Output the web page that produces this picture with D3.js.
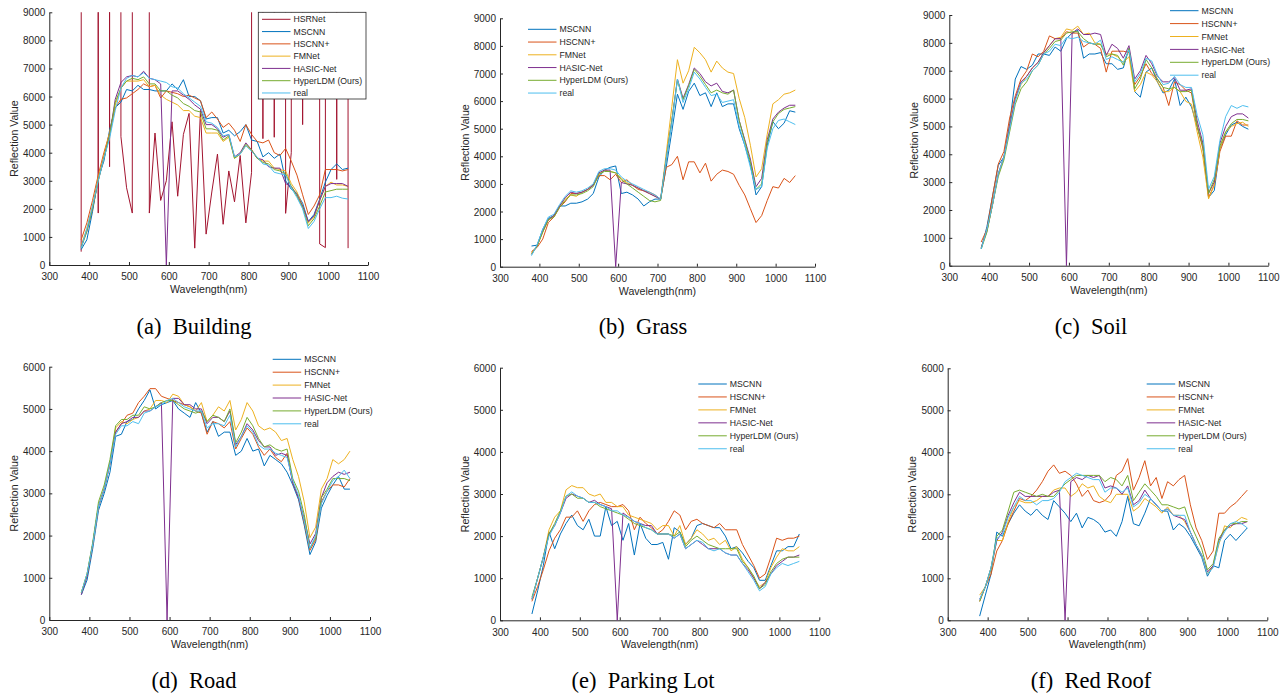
<!DOCTYPE html>
<html>
<head>
<meta charset="utf-8">
<script src="https://cdn.jsdelivr.net/npm/d3@7"></script>
<style>
  body { margin: 0; background: #fff; }
  svg { display: block; }
  .axisText, .legendText { font-family: "Liberation Sans", Arial, sans-serif; fill: #262626; }
  .caption { font-family: "Liberation Serif", "Times New Roman", serif; font-size: 22.5px; fill: #000; }
</style>
</head>
<body>
<div id="chart"></div>
<script>
// Band centres (nm), shared by every panel
var wavelengths = [380.0, 394.3, 408.5, 422.8, 437.0, 451.3, 465.5, 479.8, 494.0, 508.3,
  522.6, 536.8, 551.1, 565.3, 579.6, 593.8, 608.1, 622.3, 636.6, 650.9,
  665.1, 679.4, 693.6, 707.9, 722.1, 736.4, 750.6, 764.9, 779.1, 793.4,
  807.7, 821.9, 836.2, 850.4, 864.7, 878.9, 893.2, 907.4, 921.7, 935.9,
  950.2, 964.5, 978.7, 993.0, 1007.2, 1021.5, 1035.7, 1050.0];

var xTicks = [300, 400, 500, 600, 700, 800, 900, 1000, 1100];
var yTicks9000 = [0, 1000, 2000, 3000, 4000, 5000, 6000, 7000, 8000, 9000];
var yTicks6000 = [0, 1000, 2000, 3000, 4000, 5000, 6000];

// HSRNet blows up far above the axis on some bands
var OFF = 1000000;

// (a) Building
var buildingHSRNet = [475, OFF, OFF, 1850, OFF, 3500, OFF, 4570, 2750, 1850, OFF, OFF, 1850, 4700, 2300, 3000, 5100, 2450, 4650, 5400, 600, 5500, 1100, 2600, 3950, 1450, 3350, 2250, 3900, 1500, 3300, OFF, 4500, OFF, 4550, OFF, 1840, 4000, OFF, 5000, OFF, OFF, 750, 620, OFF, 3050, OFF, 600];
var buildingMSCNN = [550, 900, 1900, 3100, 3700, 4800, 5600, 5800, 6250, 6200, 6400, 6250, 6250, 6200, 6200, 6200, 6450, 6250, 6600, 6000, 6000, 5850, 5200, 5250, 5250, 4700, 4800, 4600, 4750, 5000, 4450, 4400, 3850, 4000, 3800, 3950, 3000, 2700, 2550, 2200, 1550, 1800, 2350, 2950, 3400, 3600, 3400, 3450];
var buildingHSCNN = [900, 1500, 2300, 3200, 4000, 4700, 5600, 5900, 5950, 6100, 6250, 6450, 6350, 6400, 5950, 6200, 6150, 6100, 6000, 6050, 5950, 5850, 5250, 5450, 5200, 4900, 5050, 4800, 4400, 5000, 4650, 4400, 4350, 4450, 4000, 3900, 4150, 3700, 3200, 2500, 1800, 2100, 2500, 3400, 3400, 3400, 3350, 3400];
var buildingFMNet = [700, 1300, 2100, 3100, 3900, 4700, 5700, 6300, 6550, 6550, 6550, 6600, 6350, 6400, 6050, 5900, 5800, 5700, 5500, 5500, 5300, 5250, 4700, 4700, 4700, 4400, 4550, 3800, 3950, 4250, 4100, 3800, 3700, 3700, 3450, 3400, 3350, 2900, 2600, 2100, 1500, 1700, 2300, 2800, 2950, 2850, 2850, 2800];
var buildingHASIC = [650, 1200, 2000, 3000, 3800, 4600, 5900, 6500, 6700, 6750, 6700, 6900, 6650, 6600, 6450, 0, 6200, 6200, 6050, 5900, 5700, 5550, 5000, 5000, 4850, 4550, 4650, 3850, 4000, 4350, 4100, 3800, 3750, 3500, 3450, 3450, 2900, 2800, 2500, 2100, 1550, 1750, 2300, 2800, 2900, 2900, 2900, 2800];
var buildingHyperLDM = [600, 1200, 2000, 3000, 3800, 4600, 5800, 6300, 6550, 6650, 6600, 6700, 6450, 6450, 6200, 6200, 6050, 5950, 5750, 5650, 5500, 5450, 4850, 4850, 4800, 4450, 4600, 3800, 3950, 4300, 4100, 3800, 3650, 3600, 3400, 3350, 3250, 2800, 2450, 2050, 1400, 1650, 2100, 2600, 2650, 2700, 2700, 2700];
var buildingReal = [600, 1300, 2100, 3000, 3800, 4500, 5500, 6300, 6650, 6750, 6700, 6850, 6650, 6600, 6550, 6500, 6350, 6300, 6100, 5950, 5800, 5650, 5100, 5050, 4900, 4600, 4650, 3850, 3950, 4250, 4050, 3850, 3600, 3550, 3300, 3250, 3200, 2750, 2400, 2000, 1300, 1550, 2000, 2400, 2400, 2450, 2380, 2350];

// (b) Grass
var grassMSCNN = [750, 780, 1350, 1750, 1850, 2200, 2200, 2300, 2300, 2350, 2450, 2650, 3250, 3500, 3600, 3650, 2650, 2700, 2600, 2450, 2200, 2350, 2450, 2450, 3600, 4900, 6250, 5700, 6350, 6650, 6200, 6300, 5800, 6300, 5800, 5900, 5900, 5000, 4400, 3700, 2600, 2900, 4400, 5250, 5000, 5200, 5650, 5600];
var grassHSCNN = [550, 700, 1000, 1600, 1800, 2150, 2350, 2650, 2650, 2700, 2800, 2950, 3300, 3300, 3150, 3350, 3050, 3150, 2950, 2800, 2750, 2700, 2600, 2450, 3600, 3700, 4000, 3150, 3800, 3800, 3400, 3750, 3100, 3350, 3500, 3450, 3350, 2950, 2600, 2100, 1600, 1850, 2400, 2900, 2850, 3200, 3050, 3300];
var grassFMNet = [500, 750, 1250, 1700, 1850, 2200, 2450, 2600, 2550, 2700, 2800, 3000, 3350, 3500, 3450, 3400, 3200, 3050, 2950, 2850, 2750, 2650, 2550, 2450, 4100, 5800, 7500, 6650, 7100, 7950, 7750, 7500, 7050, 7450, 7200, 7050, 7000, 6100, 5400, 4400, 3250, 3550, 4800, 5900, 6050, 6250, 6300, 6400];
var grassHASIC = [450, 750, 1300, 1700, 1850, 2200, 2500, 2700, 2650, 2700, 2800, 2950, 3400, 3500, 3500, 0, 3050, 3000, 2950, 2850, 2750, 2650, 2550, 2450, 3900, 5300, 6800, 6100, 6600, 7200, 7000, 6700, 6550, 6650, 6350, 6300, 6400, 5300, 4600, 3900, 2900, 3200, 4600, 5350, 5600, 5750, 5850, 5850];
var grassHyperLDM = [450, 750, 1250, 1700, 1800, 2150, 2400, 2600, 2600, 2650, 2750, 2900, 3350, 3450, 3450, 3400, 3150, 3000, 2850, 2700, 2550, 2400, 2350, 2400, 3900, 5300, 6750, 6050, 6550, 7150, 6900, 6600, 6300, 6400, 6300, 6250, 6400, 5300, 4550, 3800, 2800, 3000, 4500, 5250, 5550, 5700, 5750, 5800];
var grassReal = [400, 800, 1350, 1800, 1900, 2250, 2550, 2750, 2700, 2750, 2850, 3000, 3450, 3550, 3550, 3500, 3250, 3100, 3000, 2900, 2800, 2700, 2600, 2450, 3900, 5200, 6800, 5950, 6450, 7050, 6800, 6500, 6200, 6250, 5950, 6000, 6050, 5100, 4400, 3600, 2800, 2900, 4300, 5000, 5300, 5350, 5250, 5150];

// (c) Soil
var soilMSCNN = [600, 1400, 2500, 3600, 3900, 5100, 6700, 7150, 7050, 7200, 7600, 7600, 7550, 7850, 7700, 8150, 8350, 8450, 7450, 7600, 7600, 7650, 7250, 7250, 7050, 7100, 7800, 6250, 6050, 6950, 7100, 6600, 6200, 6300, 6700, 5750, 6050, 5700, 5000, 4300, 2450, 2700, 4200, 4700, 5050, 5150, 5000, 4900];
var soilHSCNN = [850, 1300, 2500, 3650, 4100, 5300, 6100, 6700, 7000, 7600, 7500, 7700, 8250, 8150, 8150, 8400, 8350, 8350, 7850, 8000, 7950, 7800, 6950, 7700, 7700, 7700, 7650, 6500, 6800, 7250, 6900, 6700, 6400, 5750, 6600, 6500, 6300, 6200, 5000, 4200, 2450, 2900, 4100, 4650, 4650, 5200, 5050, 5050];
var soilFMNet = [650, 1250, 2200, 3300, 3900, 5000, 6000, 6500, 6800, 7100, 7300, 7650, 7900, 8150, 8200, 8500, 8450, 8600, 8300, 8350, 8000, 7950, 7600, 7600, 7500, 7300, 7500, 6250, 6500, 6950, 6850, 6600, 6250, 6250, 6400, 6250, 5900, 5800, 4800, 3900, 2400, 2900, 4200, 4800, 5000, 5100, 5150, 5000];
var soilHASIC = [650, 1250, 2200, 3300, 3900, 5000, 6000, 6600, 6800, 7100, 7300, 7650, 7900, 8150, 8150, 0, 8350, 8500, 8300, 8300, 8350, 8300, 7550, 7950, 7800, 7450, 7900, 6700, 7000, 7550, 7250, 6800, 6600, 6600, 6750, 6300, 6300, 6350, 5200, 4400, 2600, 3000, 4400, 5000, 5350, 5450, 5450, 5300];
var soilHyperLDM = [600, 1200, 2200, 3200, 3800, 4800, 5800, 6350, 6600, 7000, 7200, 7600, 7800, 8050, 8100, 8350, 8400, 8400, 8150, 8000, 7950, 7950, 7500, 7600, 7550, 7200, 7800, 6350, 6700, 7400, 7100, 6700, 6400, 6350, 6400, 6250, 6250, 6300, 5000, 4300, 2600, 3100, 4300, 4800, 5100, 5250, 5250, 5200];
var soilReal = [600, 1300, 2200, 3300, 3900, 4900, 5900, 6550, 6700, 7000, 7200, 7600, 7700, 7950, 7900, 8200, 8150, 8200, 8050, 8000, 7950, 8100, 7400, 7500, 7400, 7300, 7750, 6600, 6900, 7450, 7350, 6850, 6500, 6550, 6800, 6500, 6400, 6400, 5400, 4700, 2750, 3200, 4500, 5350, 5750, 5650, 5750, 5700];

// (d) Road
var roadMSCNN = [600, 950, 1700, 2600, 3000, 3500, 4350, 4400, 4700, 4750, 5000, 5200, 5450, 5000, 5100, 5150, 5200, 5000, 4900, 4800, 5150, 4900, 4450, 4700, 4350, 4450, 4450, 3900, 4000, 4300, 4000, 4050, 3650, 3900, 3800, 3700, 3500, 3200, 2850, 2250, 1550, 1850, 2650, 2950, 3200, 3400, 3100, 3100];
var roadHSCNN = [650, 1050, 1800, 2700, 3100, 3700, 4450, 4650, 4850, 4900, 5150, 5300, 5480, 5480, 5300, 5250, 5200, 5150, 5100, 5050, 4950, 4900, 4400, 4700, 4650, 4550, 4700, 4050, 4300, 4550, 4400, 4100, 3900, 4050, 3850, 3750, 3950, 3250, 2900, 2300, 1650, 1900, 2800, 3050, 3200, 3200, 3150, 3350];
var roadFMNet = [650, 1100, 1800, 2700, 3100, 3700, 4550, 4700, 4650, 4750, 4800, 4950, 5000, 5200, 5200, 5150, 5350, 5300, 5100, 5050, 4950, 5150, 4700, 4850, 5050, 4950, 5200, 4500, 4750, 5150, 4950, 4600, 4500, 4550, 4450, 4250, 4300, 3800, 3400, 2800, 1950, 2200, 3100, 3350, 3800, 3700, 3800, 4000];
var roadHASIC = [600, 1050, 1800, 2700, 3100, 3700, 4450, 4650, 4700, 4800, 4800, 4950, 4950, 5050, 5150, 0, 5250, 5250, 5100, 5100, 5000, 5000, 4650, 4800, 4800, 4700, 4950, 4150, 4350, 4650, 4500, 4250, 4100, 4100, 3900, 3950, 3900, 3250, 2900, 2400, 1800, 2050, 2900, 3250, 3400, 3500, 3450, 3500];
var roadHyperLDM = [650, 1100, 1850, 2800, 3200, 3800, 4600, 4750, 4750, 4850, 4850, 5050, 5000, 5050, 5150, 5200, 5200, 5100, 5000, 4950, 4900, 4950, 4700, 4850, 4800, 4700, 5000, 4200, 4450, 4800, 4600, 4300, 4100, 4150, 4050, 4000, 4050, 3350, 3050, 2500, 1700, 1950, 2900, 3100, 3350, 3350, 3350, 3300];
var roadReal = [650, 1100, 1800, 2700, 3100, 3700, 4400, 4600, 4600, 4700, 4650, 4900, 4950, 5050, 5100, 5200, 5250, 5150, 5050, 5000, 4950, 4950, 4550, 4650, 4650, 4600, 4850, 4100, 4350, 4600, 4450, 4150, 4050, 4050, 3950, 3900, 3850, 3300, 2950, 2350, 1700, 2000, 2750, 3050, 3300, 3400, 3550, 3350];

// (e) Parking Lot
var parkingMSCNN = [150, 700, 1300, 2100, 1700, 2050, 2300, 2500, 2250, 2150, 2400, 2000, 2000, 2700, 2250, 2350, 1900, 2300, 1550, 2300, 1950, 1800, 1800, 1850, 1450, 2200, 2100, 1800, 1950, 2250, 2300, 2250, 2200, 2200, 2000, 1700, 1750, 1600, 1400, 1250, 950, 950, 1300, 1650, 1650, 1750, 1750, 2050];
var parkingHSCNN = [450, 800, 1200, 1650, 1950, 2150, 2450, 2450, 2600, 2350, 2600, 2750, 2800, 2750, 2700, 2700, 2750, 2600, 2150, 2450, 2300, 2200, 2050, 2150, 2350, 2600, 2500, 2150, 2350, 2400, 2300, 2250, 2200, 2300, 2150, 2150, 2150, 1800, 1550, 1300, 1000, 1100, 1500, 1950, 1900, 1950, 1950, 2000];
var parkingFMNet = [500, 1000, 1500, 2150, 2450, 2600, 3100, 3200, 3150, 3150, 3000, 2950, 3000, 2800, 2800, 2700, 2700, 2500, 2450, 2400, 2350, 2300, 2150, 2250, 2250, 2000, 2250, 1800, 1950, 2150, 2050, 1900, 1950, 1800, 1900, 1650, 1750, 1450, 1250, 1000, 800, 900, 1250, 1500, 1700, 1650, 1650, 1750];
var parkingHASIC = [500, 1000, 1500, 2050, 2250, 2550, 2900, 3000, 2950, 2900, 2800, 2850, 2750, 2700, 2650, 0, 2550, 2450, 2350, 2300, 2250, 2250, 2050, 2050, 2050, 1950, 2050, 1700, 1800, 1900, 1800, 1700, 1700, 1700, 1600, 1550, 1550, 1350, 1200, 1000, 750, 900, 1100, 1300, 1400, 1500, 1500, 1550];
var parkingHyperLDM = [550, 1000, 1500, 2050, 2300, 2600, 2950, 3000, 2900, 2900, 2800, 2800, 2700, 2650, 2600, 2550, 2500, 2400, 2300, 2250, 2200, 2150, 2050, 2050, 2050, 2000, 2100, 1750, 1900, 2000, 1900, 1800, 1750, 1700, 1700, 1700, 1700, 1400, 1250, 1050, 750, 850, 1150, 1350, 1450, 1500, 1500, 1500];
var parkingReal = [500, 1000, 1500, 2000, 2250, 2550, 2950, 3050, 2950, 2900, 2800, 2800, 2750, 2700, 2600, 2600, 2500, 2450, 2350, 2300, 2200, 2150, 2050, 2050, 2050, 1950, 2050, 1700, 1800, 1900, 1850, 1700, 1650, 1700, 1600, 1550, 1550, 1350, 1150, 950, 700, 800, 1100, 1250, 1350, 1300, 1350, 1400];

// (f) Red Roof
var roofMSCNN = [100, 600, 1100, 2100, 2000, 2300, 2550, 2750, 2600, 2500, 2650, 2500, 2400, 2850, 2700, 2550, 2350, 2550, 2200, 2450, 2400, 2300, 2100, 2150, 2000, 2350, 2950, 2300, 2250, 2550, 2900, 2750, 2600, 2600, 2150, 2300, 2200, 2000, 1750, 1500, 1050, 1300, 1250, 1900, 2050, 1900, 2050, 2200];
var roofHSCNN = [450, 800, 1100, 1650, 1900, 2300, 2600, 2900, 2850, 2950, 3100, 3300, 3550, 3700, 3500, 3550, 3450, 3250, 2950, 3100, 2850, 2800, 2850, 3000, 3450, 3550, 3850, 3100, 3400, 3800, 3200, 3400, 2900, 3300, 3200, 3350, 3450, 2750, 2200, 1900, 1450, 1650, 2550, 2550, 2700, 2800, 2950, 3100];
var roofFMNet = [600, 800, 1200, 1900, 1900, 2350, 2700, 2850, 2800, 2800, 2850, 2950, 2950, 3100, 3150, 3150, 2950, 3050, 3250, 3150, 3200, 2950, 2850, 2800, 3000, 3000, 3000, 2600, 2700, 2900, 2800, 2700, 2550, 2700, 2500, 2500, 2350, 2100, 1800, 1550, 1100, 1300, 1800, 2250, 2200, 2350, 2450, 2400];
var roofHASIC = [500, 800, 1250, 1900, 2100, 2500, 2800, 3050, 2950, 2950, 2950, 2950, 2950, 3050, 3100, 0, 3300, 3400, 3350, 3450, 3400, 3450, 3150, 3200, 3150, 3000, 3200, 2750, 2850, 3100, 2900, 2750, 2600, 2650, 2500, 2450, 2400, 2100, 1800, 1550, 1150, 1300, 1900, 2150, 2250, 2300, 2300, 2350];
var roofHyperLDM = [450, 800, 1250, 2000, 2150, 2600, 3050, 3100, 3050, 3000, 2950, 3000, 2950, 2950, 3100, 3250, 3350, 3450, 3450, 3450, 3450, 3450, 3300, 3400, 3350, 3200, 3450, 2850, 3050, 3250, 3100, 2950, 2750, 2750, 2700, 2650, 2700, 2300, 2000, 1700, 1200, 1350, 1950, 2150, 2300, 2300, 2350, 2350];
var roofReal = [500, 800, 1250, 1950, 2050, 2450, 2700, 2950, 2850, 2850, 2750, 2850, 2850, 2900, 3050, 3300, 3400, 3500, 3450, 3400, 3350, 3350, 3050, 3150, 3150, 3050, 3150, 2700, 2800, 3000, 2900, 2750, 2600, 2650, 2500, 2500, 2500, 2100, 1800, 1550, 1100, 1250, 1850, 2100, 2300, 2350, 2300, 2200];

// MATLAB default line colours
var methodColors = {
    "HSRNet": "#A2142F",
    "MSCNN": "#0072BD",
    "HSCNN+": "#D95319",
    "FMNet": "#EDB120",
    "HASIC-Net": "#7E2F8E",
    "HyperLDM (Ours)": "#77AC30",
    "real": "#4DBEEE"
};

var panels = [
    { label: "(a)", title: "Building", left: 49.3, right: 368, top: 12.3, bottom: 265, yTicks: yTicks9000,
      captionX: 194, captionY: 334, legendX: 262, legendY: 19.3, legendStep: 12.28, legendBox: [258.3, 12.3, 366, 99],
      series: [["HSRNet", buildingHSRNet], ["MSCNN", buildingMSCNN], ["HSCNN+", buildingHSCNN], ["FMNet", buildingFMNet],
               ["HASIC-Net", buildingHASIC], ["HyperLDM (Ours)", buildingHyperLDM], ["real", buildingReal]] },
    { label: "(b)", title: "Grass", left: 500, right: 815, top: 18.3, bottom: 266.7, yTicks: yTicks9000,
      captionX: 643, captionY: 334, legendX: 528, legendY: 29.3, legendStep: 12.75,
      series: [["MSCNN", grassMSCNN], ["HSCNN+", grassHSCNN], ["FMNet", grassFMNet],
               ["HASIC-Net", grassHASIC], ["HyperLDM (Ours)", grassHyperLDM], ["real", grassReal]] },
    { label: "(c)", title: "Soil", left: 949.3, right: 1268.3, top: 15, bottom: 265.7, yTicks: yTicks9000,
      captionX: 1091, captionY: 334, legendX: 1170, legendY: 10.7, legendStep: 12.9,
      series: [["MSCNN", soilMSCNN], ["HSCNN+", soilHSCNN], ["FMNet", soilFMNet],
               ["HASIC-Net", soilHASIC], ["HyperLDM (Ours)", soilHyperLDM], ["real", soilReal]] },
    { label: "(d)", title: "Road", left: 49.3, right: 370, top: 366.7, bottom: 620, yTicks: yTicks6000,
      captionX: 194, captionY: 688, legendX: 272.7, legendY: 359.3, legendStep: 12.9,
      series: [["MSCNN", roadMSCNN], ["HSCNN+", roadHSCNN], ["FMNet", roadFMNet],
               ["HASIC-Net", roadHASIC], ["HyperLDM (Ours)", roadHyperLDM], ["real", roadReal]] },
    { label: "(e)", title: "Parking Lot", left: 500, right: 819.3, top: 367.7, bottom: 620.3, yTicks: yTicks6000,
      captionX: 643, captionY: 688, legendX: 698.3, legendY: 384, legendStep: 12.95,
      series: [["MSCNN", parkingMSCNN], ["HSCNN+", parkingHSCNN], ["FMNet", parkingFMNet],
               ["HASIC-Net", parkingHASIC], ["HyperLDM (Ours)", parkingHyperLDM], ["real", parkingReal]] },
    { label: "(f)", title: "Red Roof", left: 947.7, right: 1267.3, top: 368.3, bottom: 620.3, yTicks: yTicks6000,
      captionX: 1091, captionY: 688, legendX: 1146.7, legendY: 384, legendStep: 12.95,
      series: [["MSCNN", roofMSCNN], ["HSCNN+", roofHSCNN], ["FMNet", roofFMNet],
               ["HASIC-Net", roofHASIC], ["HyperLDM (Ours)", roofHyperLDM], ["real", roofReal]] }
];

var svgWidth = 1285;
var svgHeight = 694;
var axisColor = "#262626";

var svg = d3.select("#chart")
    .append("svg")
    .attr("width", svgWidth)
    .attr("height", svgHeight);

var defs = svg.append("defs");

panels.forEach(function(p, k) {
    var yMax = p.yTicks[p.yTicks.length - 1];
    var xScale = d3.scaleLinear().domain([300, 1100]).range([p.left, p.right]);
    var yScale = d3.scaleLinear().domain([0, yMax]).range([p.bottom, p.top]);

    var g = svg.append("g");

    // clip so off-scale values stay inside the axes
    defs.append("clipPath").attr("id", "clip" + k)
        .append("rect")
        .attr("x", p.left).attr("y", p.top)
        .attr("width", p.right - p.left).attr("height", p.bottom - p.top + 1);

    // axes: MATLAB style, ticks pointing inward, no box
    var bottomAxis = d3.axisBottom(xScale).tickValues(xTicks).tickFormat(d3.format("d"))
        .tickSizeInner(-3).tickSizeOuter(0).tickPadding(8.3);
    var leftAxis = d3.axisLeft(yScale).tickValues(p.yTicks).tickFormat(d3.format("d"))
        .tickSizeInner(-3).tickSizeOuter(0).tickPadding(4);

    g.append("g")
        .attr("transform", `translate(0, ${p.bottom})`)
        .attr("color", axisColor)
        .attr("font-family", "Liberation Sans, Arial, sans-serif")
        .attr("font-size", 9.6)
        .call(bottomAxis);
    g.append("g")
        .attr("transform", `translate(${p.left}, 0)`)
        .attr("color", axisColor)
        .attr("font-family", "Liberation Sans, Arial, sans-serif")
        .attr("font-size", 9.6)
        .call(leftAxis)
        .selectAll("text").attr("dy", "0.35em");
    g.selectAll(".tick text").attr("fill", axisColor);

    // spectra
    var line = d3.line()
        .x(function(d, i) { return xScale(wavelengths[i]); })
        .y(function(d) { return yScale(d); });

    g.append("g")
        .attr("clip-path", "url(#clip" + k + ")")
        .selectAll("path")
        .data(p.series)
        .enter()
        .append("path")
        .attr("d", function(s) { return line(s[1]); })
        .attr("fill", "none")
        .attr("stroke", function(s) { return methodColors[s[0]]; })
        .attr("stroke-width", 1)
        .attr("stroke-linejoin", "round");

    // axis titles
    g.append("text")
        .attr("class", "axisText")
        .attr("transform", `translate(${p.left - 31.5}, ${(p.top + p.bottom) / 2}) rotate(-90)`)
        .attr("text-anchor", "middle")
        .attr("font-size", 10.6)
        .text("Reflection Value");
    g.append("text")
        .attr("class", "axisText")
        .attr("x", (p.left + p.right) / 2)
        .attr("y", p.bottom + 28)
        .attr("text-anchor", "middle")
        .attr("font-size", 10.6)
        .text("Wavelength(nm)");

    // legend
    if (p.legendBox) {
        g.append("rect")
            .attr("x", p.legendBox[0]).attr("y", p.legendBox[1])
            .attr("width", p.legendBox[2] - p.legendBox[0])
            .attr("height", p.legendBox[3] - p.legendBox[1])
            .attr("fill", "#fff")
            .attr("stroke", axisColor)
            .attr("stroke-width", 0.8);
    }
    var items = g.append("g").selectAll("g")
        .data(p.series)
        .enter()
        .append("g")
        .attr("transform", function(s, i) { return `translate(${p.legendX}, ${p.legendY + i * p.legendStep})`; });
    items.append("line")
        .attr("x1", 0).attr("x2", 28.5)
        .attr("stroke", function(s) { return methodColors[s[0]]; })
        .attr("stroke-width", 1);
    items.append("text")
        .attr("class", "legendText")
        .attr("x", 31.5)
        .attr("y", 3.1)
        .attr("font-size", 8.7)
        .text(function(s) { return s[0]; });

    // sub-figure caption
    g.append("text")
        .attr("class", "caption")
        .attr("x", p.captionX)
        .attr("y", p.captionY)
        .attr("text-anchor", "middle")
        .text(p.label + "\u00A0\u00A0" + p.title);
});
</script>
</body>
</html>
